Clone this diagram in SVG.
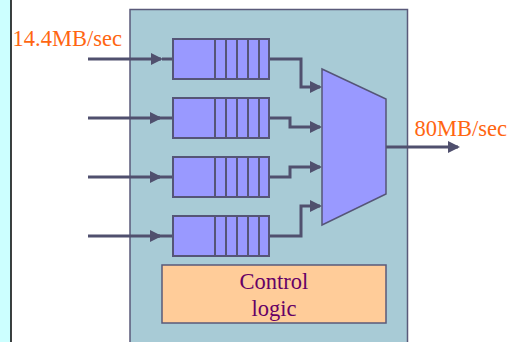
<svg xmlns="http://www.w3.org/2000/svg" width="520" height="342" viewBox="0 0 520 342">
<style>
.q{fill:#9999ff;stroke:#555577;stroke-width:2}
.dv{stroke:#555577;stroke-width:2}
.w{fill:none;stroke:#50506e;stroke-width:3;stroke-linecap:butt;stroke-linejoin:miter}
.rate{font-family:"Liberation Serif","Times New Roman",serif;font-size:22.5px;fill:#ff6611}
.ctl{font-family:"Liberation Serif","Times New Roman",serif;font-size:22.5px;fill:#660066;text-anchor:middle}
</style>
<defs>
<marker id="ah" markerUnits="userSpaceOnUse" markerWidth="12" markerHeight="12" refX="10" refY="6" orient="auto">
<path d="M0,0 L12,6 L0,12 z" fill="#50506e"/>
</marker>
<g id="cells">
<line class="dv" x1="42" y1="0" x2="42" y2="40"/>
<line class="dv" x1="53" y1="0" x2="53" y2="40"/>
<line class="dv" x1="64" y1="0" x2="64" y2="40"/>
<line class="dv" x1="75" y1="0" x2="75" y2="40"/>
<line class="dv" x1="86" y1="0" x2="86" y2="40"/>
</g>
</defs>
<rect x="0" y="0" width="520" height="342" fill="#ffffff"/>
<g id="strip">
<rect x="0" y="0" width="11" height="342" fill="#ccffff"/>
<line x1="11" y1="0" x2="11" y2="342" stroke="#000000" stroke-width="1.5"/>
</g>
<g id="switch">
<rect x="130" y="9.5" width="277.5" height="340" fill="#a8cbd6" stroke="#5a5a7a" stroke-width="1.5"/>
</g>
<g id="connectors">
<path class="w" d="M88,59 H161" marker-end="url(#ah)"/>
<path class="w" d="M162,59 H173"/>
<path class="w" d="M88,118 H160" marker-end="url(#ah)"/>
<path class="w" d="M158,118 H173"/>
<path class="w" d="M88,177 H160" marker-end="url(#ah)"/>
<path class="w" d="M158,177 H173"/>
<path class="w" d="M88,236 H160" marker-end="url(#ah)"/>
<path class="w" d="M158,236 H173"/>
<path class="w" d="M269,59 H301 V87 H320" marker-end="url(#ah)"/>
<path class="w" d="M269,118 H290 V127 H320" marker-end="url(#ah)"/>
<path class="w" d="M269,177 H290 V167 H320" marker-end="url(#ah)"/>
<path class="w" d="M269,236 H301 V206 H320" marker-end="url(#ah)"/>
<path class="w" d="M386,147 H458" marker-end="url(#ah)"/>
</g>
<g id="queue1">
<rect class="q" x="173" y="39" width="96" height="40"/>
<use href="#cells" x="173" y="39"/>
</g>
<g id="queue2">
<rect class="q" x="173" y="98" width="96" height="40"/>
<use href="#cells" x="173" y="98"/>
</g>
<g id="queue3">
<rect class="q" x="173" y="157" width="96" height="40"/>
<use href="#cells" x="173" y="157"/>
</g>
<g id="queue4">
<rect class="q" x="173" y="216" width="96" height="40"/>
<use href="#cells" x="173" y="216"/>
</g>
<g id="mux">
<polygon points="322,69 386,99 386,194 322,225" fill="#9999ff" stroke="#555577" stroke-width="1.5"/>
</g>
<g id="control">
<rect x="162" y="265" width="224" height="58" fill="#ffcc99" stroke="#5a5a7a" stroke-width="1.5"/>
<text class="ctl" x="274" y="289">Control</text>
<text class="ctl" x="274" y="316">logic</text>
</g>
<g id="labels">
<text class="rate" x="12.5" y="46">14.4MB/sec</text>
<text class="rate" x="414.5" y="136">80MB/sec</text>
</g>
</svg>
